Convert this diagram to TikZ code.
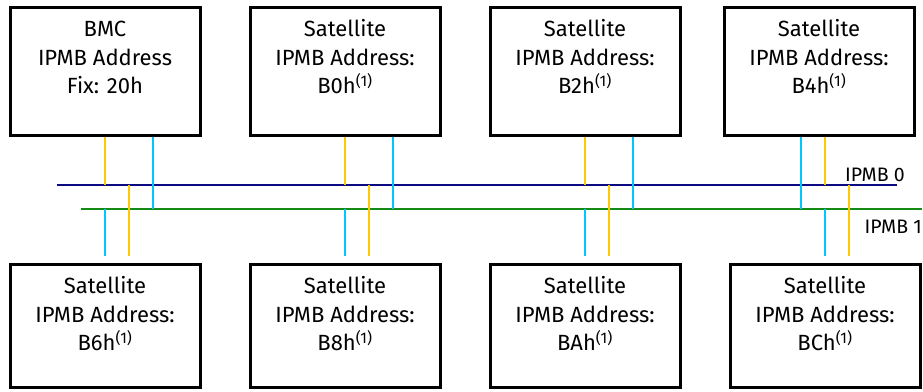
\documentclass[tikz,border=0pt]{standalone}
\usepackage{fontspec}
\setmainfont{Fira Sans}
\usepackage{xcolor}
\definecolor{busnavy}{HTML}{0A0A82}
\definecolor{busgreen}{HTML}{158A15}
\definecolor{stubyellow}{HTML}{FFC800}
\definecolor{stubcyan}{HTML}{00C8FF}
\usepackage{tikz}
\usetikzlibrary{positioning}

\begin{document}
\begin{tikzpicture}[
  x=1pt,y=-1pt,
  node distance=13.5pt,
  unit/.style={draw=black,line width=3pt,minimum width=190pt,inner sep=0pt},
  topunit/.style={unit,minimum height=128pt},
  lowunit/.style={unit,minimum height=123pt},
  unittext/.style={align=center,inner sep=0pt,font=\fontsize{22}{28.5}\selectfont},
  buslabel/.style={inner sep=0pt,font=\fontsize{19.5}{24}\selectfont},
  bus0/.style={line width=2.8pt,draw=busnavy},
  bus1/.style={line width=2.8pt,draw=busgreen},
  ylw/.style={line width=2.8pt,draw=stubyellow},
  cyn/.style={line width=2.8pt,draw=stubcyan}
]
\useasboundingbox (0,0) rectangle (923,391);
% upper row
\node[topunit] (bmc) at (105,71.5) {};
\node[topunit] (sat0) at (345,71.5) {};
\node[topunit] (sat2) at (585,71.5) {};
\node[topunit] (sat4) at (819,71.5) {};
\node[unittext,below=15pt of bmc.north] (bmctxt) {BMC\\IPMB Address\\Fix: 20h};
\node[unittext,below=of sat0.north] (sat0txt) {Satellite\\IPMB Address:\\B0h\textsuperscript{(1)}};
\node[unittext,below=of sat2.north] (sat2txt) {Satellite\\IPMB Address:\\B2h\textsuperscript{(1)}};
\node[unittext,below=of sat4.north] (sat4txt) {Satellite\\IPMB Address:\\B4h\textsuperscript{(1)}};
% lower row
\node[lowunit] (sat6) at (105,326) {};
\node[lowunit] (sat8) at (345,326) {};
\node[lowunit] (satA) at (585,326) {};
\node[lowunit] (satC) at (825,326) {};
\node[unittext,below=of sat6.north] (sat6txt) {Satellite\\IPMB Address:\\B6h\textsuperscript{(1)}};
\node[unittext,below=of sat8.north] (sat8txt) {Satellite\\IPMB Address:\\B8h\textsuperscript{(1)}};
\node[unittext,below=of satA.north] (satAtxt) {Satellite\\IPMB Address:\\BAh\textsuperscript{(1)}};
\node[unittext,below=of satC.north] (satCtxt) {Satellite\\IPMB Address:\\BCh\textsuperscript{(1)}};
% the two busses
\coordinate (b0w) at (57,185);
\coordinate (b0e) at (897,185);
\coordinate (b1w) at (81,209);
\coordinate (b1e) at (922,209);
\draw[bus0] (b0w) -- (b0e);
\draw[bus1] (b1w) -- (b1e);
\node[buslabel,anchor=base west] (ipmb0) at (845,181) {IPMB 0};
\node[buslabel,anchor=base east] (ipmb1) at (922,233) {IPMB 1};
% stubs, upper row
\draw[ylw] (bmc.south) -- (bmc.south |- b0w);
\draw[cyn] ([xshift=48pt]bmc.south) -- ([xshift=48pt]bmc.south |- b1w);
\draw[ylw] (sat0.south) -- (sat0.south |- b0w);
\draw[cyn] ([xshift=48pt]sat0.south) -- ([xshift=48pt]sat0.south |- b1w);
\draw[ylw] (sat2.south) -- (sat2.south |- b0w);
\draw[cyn] ([xshift=48pt]sat2.south) -- ([xshift=48pt]sat2.south |- b1w);
\draw[cyn] ([xshift=-18pt]sat4.south) -- ([xshift=-18pt]sat4.south |- b1w);
\draw[ylw] ([xshift=6pt]sat4.south) -- ([xshift=6pt]sat4.south |- b0w);
% stubs, lower row
\draw[cyn] ([yshift=7pt]sat6.north) -- (sat6.north |- b1w);
\draw[ylw] ([shift={(24pt,7pt)}]sat6.north) -- ([xshift=24pt]sat6.north |- b0w);
\draw[cyn] ([yshift=7pt]sat8.north) -- (sat8.north |- b1w);
\draw[ylw] ([shift={(24pt,7pt)}]sat8.north) -- ([xshift=24pt]sat8.north |- b0w);
\draw[cyn] ([yshift=7pt]satA.north) -- (satA.north |- b1w);
\draw[ylw] ([shift={(24pt,7pt)}]satA.north) -- ([xshift=24pt]satA.north |- b0w);
\draw[cyn] ([yshift=7pt]satC.north) -- (satC.north |- b1w);
\draw[ylw] ([shift={(24pt,7pt)}]satC.north) -- ([xshift=24pt]satC.north |- b0w);
\end{tikzpicture}
\end{document}
